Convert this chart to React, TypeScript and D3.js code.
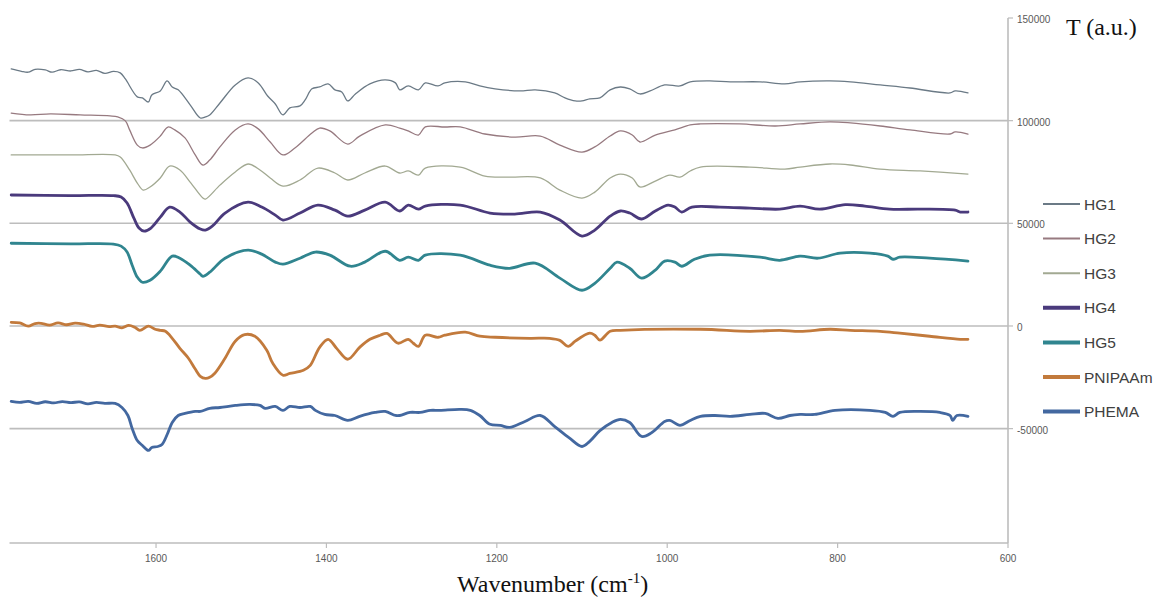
import * as d3 from "d3";

type Pt = [number, number];

// wavenumber (cm-1), transmittance (a.u.)
const hg1: Pt[] = [
  [1770, 125200], [1758, 124000], [1750, 123600], [1742, 125000], [1730, 124700], [1722, 123600],
  [1712, 124800], [1700, 124200], [1690, 125000], [1680, 123800], [1670, 124500], [1660, 123000],
  [1650, 124000], [1642, 123300], [1636, 120300], [1622, 111600], [1616, 111100], [1609, 109100],
  [1605, 112500], [1595, 114500], [1587, 119400], [1581, 116400], [1574, 115000], [1560, 107700],
  [1548, 101300], [1542, 101800], [1537, 102800], [1525, 108600], [1507, 117400], [1492, 120800],
  [1480, 118400], [1469, 112000], [1460, 108100], [1451, 102800], [1443, 106200], [1431, 107200],
  [1425, 110100], [1417, 115500], [1408, 116400], [1398, 117900], [1390, 115000], [1382, 114000],
  [1375, 109600], [1366, 113000], [1349, 117900], [1331, 119900], [1319, 118400], [1314, 115000],
  [1304, 116900], [1292, 115000], [1284, 118400], [1269, 116900], [1261, 118400], [1237, 118900],
  [1220, 116900], [1202, 115500], [1173, 114500], [1155, 115000], [1132, 113500], [1120, 111100],
  [1108, 109600], [1100, 109600], [1091, 110600], [1079, 111100], [1067, 115000], [1055, 116400],
  [1044, 115500], [1032, 113000], [1020, 114500], [1003, 117400], [985, 116900], [973, 118900],
  [950, 119400], [926, 118900], [891, 118900], [862, 117900], [844, 118900], [809, 119400],
  [785, 118900], [750, 117400], [715, 115900], [668, 113500], [662, 114500], [647, 113500],
];

const hg2: Pt[] = [
  [1770, 103700], [1748, 102800], [1724, 103300], [1689, 102800], [1654, 102300], [1645, 101800],
  [1636, 99900], [1631, 95500], [1622, 88100], [1616, 86700], [1607, 88100], [1595, 92500],
  [1586, 96900], [1578, 95500], [1566, 91600], [1554, 83300], [1545, 78400], [1537, 80800],
  [1525, 87200], [1507, 95500], [1492, 98400], [1480, 96000], [1466, 89600], [1451, 83300],
  [1437, 86700], [1417, 94000], [1408, 96400], [1396, 95000], [1375, 88600], [1361, 92500],
  [1331, 97900], [1314, 96400], [1304, 95000], [1292, 93000], [1284, 97000], [1261, 96900],
  [1243, 97000], [1214, 93500], [1179, 92000], [1149, 92500], [1126, 88100], [1100, 84700],
  [1085, 87200], [1067, 92500], [1055, 95000], [1041, 93000], [1032, 89600], [1014, 93000],
  [991, 95500], [973, 97900], [961, 98400], [915, 98400], [873, 97400], [844, 98400],
  [809, 99400], [785, 98900], [750, 97400], [715, 95500], [668, 93500], [662, 94500], [647, 93500],
];

const hg3: Pt[] = [
  [1770, 83300], [1700, 83300], [1648, 83300], [1642, 82300], [1631, 76000], [1622, 69600],
  [1615, 66200], [1607, 67700], [1595, 72100], [1584, 77900], [1572, 76000], [1560, 70100],
  [1545, 62300], [1542, 61800], [1525, 68600], [1507, 75000], [1492, 78900], [1478, 76000],
  [1466, 72100], [1451, 68100], [1431, 71100], [1410, 76900], [1390, 74500], [1375, 71100],
  [1355, 74500], [1331, 77900], [1314, 74500], [1304, 75500], [1292, 73500], [1284, 76900],
  [1243, 77400], [1214, 73000], [1185, 72500], [1149, 72100], [1126, 66200], [1100, 62300],
  [1085, 65200], [1067, 72100], [1055, 74000], [1041, 72100], [1032, 67700], [1014, 70600],
  [997, 73500], [985, 72500], [973, 75500], [961, 77400], [903, 77400], [862, 76400],
  [844, 77400], [809, 78900], [785, 78400], [750, 76400], [703, 75500], [647, 74000],
];

const hg4: Pt[] = [
  [1770, 63800], [1700, 63500], [1650, 63500], [1641, 62800], [1634, 59900], [1626, 52500],
  [1620, 47700], [1614, 46200], [1606, 47700], [1595, 53000], [1584, 57900], [1572, 55500],
  [1560, 50600], [1548, 47200], [1542, 46700], [1534, 48600], [1519, 55000], [1492, 60300],
  [1476, 57900], [1460, 54000], [1451, 51600], [1431, 55000], [1410, 58900], [1390, 56400],
  [1375, 53500], [1355, 56400], [1331, 60300], [1314, 56000], [1304, 58900], [1292, 56900],
  [1284, 58400], [1243, 58900], [1208, 55000], [1179, 54500], [1149, 55500], [1126, 51600],
  [1100, 43800], [1085, 46700], [1067, 53500], [1055, 56000], [1044, 55000], [1030, 52100],
  [1014, 56000], [999, 58900], [991, 57900], [983, 55500], [971, 57900], [938, 57900],
  [903, 57400], [868, 56900], [844, 58400], [821, 56900], [791, 59100], [768, 58400],
  [739, 56900], [703, 56900], [662, 56400], [656, 55500], [647, 55500],
];

const hg5: Pt[] = [
  [1770, 40300], [1700, 40000], [1650, 39900], [1641, 38900], [1634, 36000], [1628, 29600],
  [1622, 23800], [1616, 21300], [1607, 22300], [1595, 26700], [1581, 34000], [1572, 33000],
  [1560, 29600], [1548, 25200], [1545, 24200], [1537, 26200], [1519, 33000], [1492, 36900],
  [1476, 35000], [1460, 31100], [1451, 30100], [1431, 33000], [1413, 36000], [1396, 34500],
  [1372, 29100], [1355, 31100], [1331, 36400], [1314, 32000], [1304, 33500], [1292, 32000],
  [1284, 34500], [1243, 34500], [1208, 29600], [1185, 28100], [1155, 30600], [1126, 23300],
  [1100, 17400], [1085, 20800], [1067, 28100], [1059, 31100], [1044, 28100], [1030, 23300],
  [1014, 27200], [1003, 31600], [991, 31100], [983, 29100], [968, 32500], [950, 34500],
  [891, 33500], [868, 32000], [844, 34000], [823, 33000], [797, 35500], [762, 35500],
  [741, 34000], [735, 32500], [727, 33500], [692, 33000], [647, 31600],
];

const pnipaam: Pt[] = [
  [1770, 1800], [1760, 1500], [1750, -100], [1742, 1200], [1735, 1300], [1725, 400],
  [1715, 1500], [1705, 600], [1695, 1400], [1685, 900], [1675, -200], [1666, 400],
  [1655, -300], [1648, -100], [1640, -900], [1632, 300], [1625, -600], [1619, -2100],
  [1609, -100], [1601, -1600], [1595, -2100], [1589, -2600], [1581, -6000], [1572, -10900],
  [1562, -15700], [1554, -21000], [1548, -24500], [1542, -25500], [1537, -25000], [1531, -23000],
  [1519, -15700], [1507, -7400], [1496, -4200], [1484, -5000], [1470, -11800], [1463, -18200],
  [1451, -24000], [1443, -23100], [1427, -21600], [1419, -19200], [1408, -10400], [1398, -6500],
  [1388, -10900], [1375, -16200], [1361, -10400], [1349, -6500], [1337, -4500], [1329, -3600],
  [1316, -8400], [1304, -6500], [1298, -8400], [1292, -9900], [1284, -4500], [1269, -5500],
  [1261, -4500], [1237, -3000], [1220, -5000], [1202, -5500], [1161, -6000], [1138, -6000],
  [1126, -7000], [1116, -9900], [1108, -7400], [1091, -3500], [1085, -4500], [1079, -6900],
  [1067, -2600], [1055, -2100], [961, -1600], [903, -2600], [868, -2100], [844, -2600],
  [809, -1600], [785, -2100], [750, -2600], [727, -3500], [692, -5000], [656, -6500], [647, -6500],
];

const phema: Pt[] = [
  [1770, -36700], [1760, -37200], [1750, -36700], [1740, -37700], [1730, -36900], [1720, -37500],
  [1710, -36800], [1700, -37300], [1690, -37000], [1680, -37900], [1670, -37200], [1660, -37700],
  [1648, -37700], [1640, -39700], [1633, -43600], [1628, -49900], [1622, -55800], [1616, -58200],
  [1609, -60600], [1605, -59200], [1598, -58700], [1593, -57700], [1586, -51900], [1581, -47000],
  [1574, -43600], [1566, -42600], [1554, -41600], [1548, -41600], [1537, -40100], [1525, -39700],
  [1507, -38700], [1490, -38200], [1478, -38700], [1472, -40100], [1460, -39200], [1451, -41100],
  [1443, -39200], [1431, -39700], [1419, -39200], [1413, -41100], [1402, -43100], [1390, -43600],
  [1375, -46000], [1361, -44000], [1343, -42100], [1331, -41600], [1319, -43600], [1314, -43600],
  [1302, -42100], [1290, -42100], [1278, -41100], [1267, -41100], [1243, -40600], [1231, -41100],
  [1220, -43600], [1208, -47900], [1196, -48400], [1185, -49400], [1167, -46500], [1149, -43600],
  [1132, -49000], [1115, -54500], [1100, -58700], [1091, -56200], [1079, -51000], [1065, -47000],
  [1055, -45500], [1044, -47000], [1030, -53800], [1018, -51900], [1003, -46500], [997, -46000],
  [985, -48400], [973, -46000], [961, -44000], [944, -43600], [926, -44000], [903, -43100],
  [885, -42600], [870, -45000], [856, -43600], [844, -43100], [827, -43100], [803, -41100],
  [762, -41100], [744, -42100], [735, -44000], [727, -42100], [703, -41600], [680, -42100],
  [668, -43600], [665, -46000], [660, -43600], [647, -44000],
];

const seriesNames = ["HG1", "HG2", "HG3", "HG4", "HG5", "PNIPAAm", "PHEMA"];
const seriesData = [hg1, hg2, hg3, hg4, hg5, pnipaam, phema];
const seriesColors = ["#6b7a86", "#977a80", "#a2a992", "#4a3a7c", "#30858f", "#c27a3c", "#4368a0"];
const seriesWidths = [1.3, 1.3, 1.3, 2.8, 2.8, 2.8, 2.8];

const xTicks = [1600, 1400, 1200, 1000, 800, 600];
const yTicks = [150000, 100000, 50000, 0, -50000];
const gridValues = [100000, 50000, 0, -50000];

const W = 1160;
const H = 600;

export default function App() {
  const x = d3.scaleLinear().domain([1772, 600]).range([9.5, 1008]);
  const y = d3.scaleLinear().domain([-105700, 150000]).range([543, 18]);

  const line = d3
    .line<Pt>()
    .x((d) => x(d[0]))
    .y((d) => y(d[1]))
    .curve(d3.curveCatmullRom.alpha(0.5));

  const axisColor = "#bdbdbd";
  const tickFont = "'Liberation Sans', Arial, sans-serif";

  return (
    <svg
      width={W}
      height={H}
      style={{ position: "absolute", left: 0, top: 0, background: "#fff" }}
    >
      {gridValues.map((v) => (
        <line
          key={v}
          x1={x(1772)}
          x2={x(600)}
          y1={y(v)}
          y2={y(v)}
          stroke={axisColor}
          strokeWidth={1.6}
        />
      ))}

      {/* y axis on the right */}
      <line x1={x(600)} x2={x(600)} y1={y(150000)} y2={y(-105700)} stroke={axisColor} strokeWidth={1.6} />
      {yTicks.map((v) => (
        <g key={v}>
          <line x1={x(600)} x2={x(600) + 5} y1={y(v)} y2={y(v)} stroke={axisColor} strokeWidth={1.2} />
          <text
            x={x(600) + 9}
            y={y(v) + 5}
            fontFamily={tickFont}
            fontSize={10}
            fill="#595959"
          >
            {v}
          </text>
        </g>
      ))}

      {/* x axis */}
      <line x1={x(1772)} x2={x(600)} y1={y(-105700)} y2={y(-105700)} stroke={axisColor} strokeWidth={1.6} />
      {xTicks.map((t) => (
        <g key={t}>
          <line x1={x(t)} x2={x(t)} y1={y(-105700)} y2={y(-105700) + 5} stroke={axisColor} strokeWidth={1.2} />
          <text
            x={x(t)}
            y={y(-105700) + 19}
            textAnchor="middle"
            fontFamily={tickFont}
            fontSize={10}
            fill="#595959"
          >
            {t}
          </text>
        </g>
      ))}

      {seriesData.map((data, i) => (
        <path
          key={seriesNames[i]}
          d={line(data) || ""}
          fill="none"
          stroke={seriesColors[i]}
          strokeWidth={seriesWidths[i]}
          strokeLinejoin="round"
          strokeLinecap="round"
        />
      ))}

      {/* legend */}
      {seriesNames.map((name, i) => {
        const ly = 204 + i * 34.6;
        return (
          <g key={name}>
            <line
              x1={1043}
              x2={1080}
              y1={ly}
              y2={ly}
              stroke={seriesColors[i]}
              strokeWidth={seriesWidths[i] > 2 ? 4 : 2}
            />
            <text
              x={1084}
              y={ly + 5.5}
              fontFamily={tickFont}
              fontSize={15.5}
              fill="#404040"
            >
              {name}
            </text>
          </g>
        );
      })}

      <text
        x={1066}
        y={35}
        fontFamily="'Liberation Serif', 'Times New Roman', serif"
        fontSize={24}
        fill="#111"
      >
        T (a.u.)
      </text>

      <text
        x={457}
        y={592}
        fontFamily="'Liberation Serif', 'Times New Roman', serif"
        fontSize={24}
        fill="#111"
      >
        Wavenumber (cm
        <tspan fontSize={15} dy={-9}>-1</tspan>
        <tspan dy={9}>)</tspan>
      </text>
    </svg>
  );
}
